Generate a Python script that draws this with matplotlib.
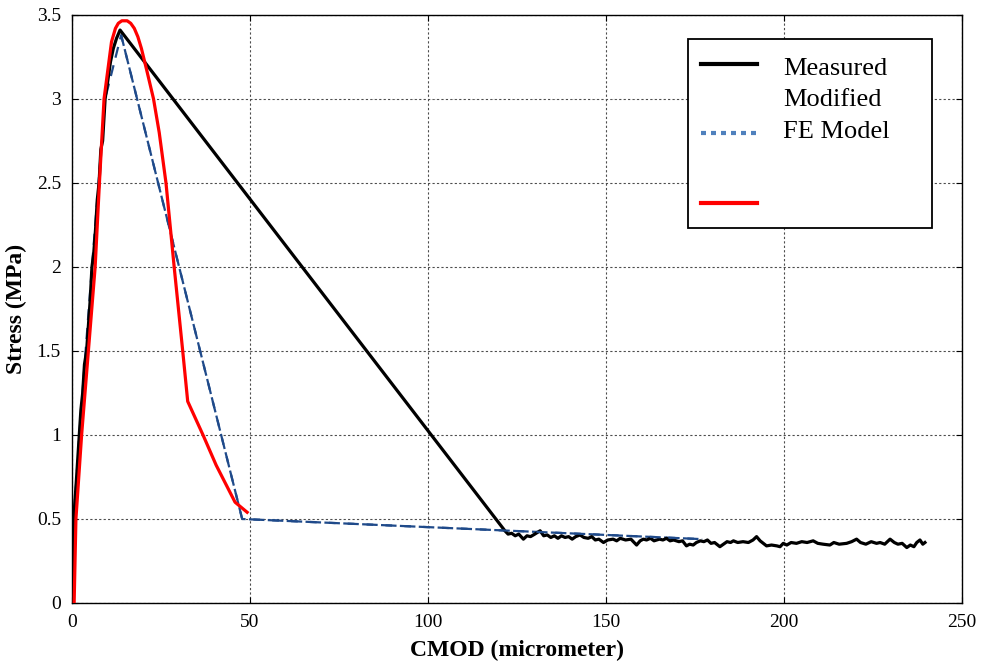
import matplotlib

matplotlib.use("Agg")
import matplotlib.pyplot as plt
from matplotlib.ticker import FuncFormatter

# measured curve: rising branch, descent to residual, noisy tail
measured_rise_x = [0, 0.1, 0.2, 0.35, 0.5, 0.8, 1.2, 1.6, 2.05, 2.5, 3.0, 3.5, 4.1, 4.6,
                   5.1, 5.6, 6.1, 6.6, 7.1, 7.6, 8.1, 8.6, 9.3, 10.0, 10.8, 11.6, 12.5, 13.5]
measured_rise_y = [0.0, 0.18, 0.30, 0.36, 0.50, 0.60, 0.72, 0.85, 1.00, 1.15, 1.25, 1.42, 1.50, 1.65,
                   1.80, 2.00, 2.08, 2.22, 2.40, 2.50, 2.70, 2.75, 3.00, 3.10, 3.22, 3.30, 3.36, 3.41]
measured_tail_x = [121.6, 122.5, 123.5, 124.5, 125.5, 126.8, 127.8, 128.8, 130, 131.5, 132.5, 133.5,
                   134.5, 135.5, 136.5, 137.5, 138.5, 139.5, 140.5, 141.5, 142.7, 143.8, 145, 146,
                   147, 148, 149.3, 150.5, 152, 153, 154, 155.5, 157, 158.6, 159.6, 160.5, 161.4,
                   162.5, 163.5, 165, 166, 167, 168, 169, 170.5, 171.5, 172.6, 173.5, 174.5, 175.4,
                   176.5, 177.5, 178.5, 179.5, 180.5, 182, 183, 184, 185, 185.8, 187, 188.5, 190,
                   191.3, 192.3, 193.3, 194.2, 195.1, 196.5, 198, 198.9, 199.8, 200.8, 202, 203.5,
                   205, 206.5, 208.2, 209.5, 211, 212.9, 214, 215.5, 217.6, 219, 220.4, 221.5, 223,
                   224.5, 226, 227, 228.3, 229.8, 231, 232, 233.2, 234.5, 235.5, 236.5, 237.3, 238.2,
                   239, 239.6]
measured_tail_y = [0.43, 0.41, 0.415, 0.40, 0.41, 0.38, 0.40, 0.395, 0.41, 0.43, 0.40, 0.405,
                   0.39, 0.40, 0.385, 0.40, 0.39, 0.395, 0.38, 0.395, 0.405, 0.39, 0.385, 0.395,
                   0.375, 0.38, 0.36, 0.375, 0.38, 0.37, 0.385, 0.375, 0.38, 0.345, 0.37, 0.38, 0.375,
                   0.385, 0.37, 0.38, 0.375, 0.385, 0.37, 0.375, 0.365, 0.37, 0.34, 0.35, 0.345, 0.36,
                   0.37, 0.365, 0.375, 0.355, 0.36, 0.335, 0.35, 0.365, 0.36, 0.37, 0.36, 0.365, 0.36,
                   0.375, 0.395, 0.37, 0.355, 0.34, 0.345, 0.34, 0.335, 0.355, 0.345, 0.36, 0.355,
                   0.365, 0.36, 0.37, 0.355, 0.35, 0.345, 0.36, 0.35, 0.355, 0.365, 0.38, 0.36, 0.35,
                   0.365, 0.355, 0.36, 0.35, 0.38, 0.36, 0.35, 0.355, 0.33, 0.345, 0.335, 0.36, 0.375,
                   0.35, 0.36]

# FE model (blue dashed)
fe_x = [0, 0.5, 2.05, 5.6, 9.3, 13.8, 47.8, 177]
fe_y = [0, 0.50, 1.00, 2.00, 3.00, 3.38, 0.50, 0.38]

# modified curve (red)
modified_x = [0.6, 1.1, 2.7, 4.6, 6.5, 7.7, 9.0, 11.1, 12.2, 13.0, 14.0, 15.5, 16.5, 17.5,
              18.5, 19.5, 21.0, 22.9, 24.5, 26.4, 28.7, 31.1, 32.5, 36.8, 40.5, 45.8, 49.2]
modified_y = [0.0, 0.5, 1.0, 1.5, 2.0, 2.5, 3.0, 3.34, 3.42, 3.45, 3.465, 3.465, 3.45, 3.42,
              3.37, 3.30, 3.17, 3.0, 2.8, 2.5, 2.0, 1.5, 1.2, 1.0, 0.82, 0.6, 0.54]

legend_labels = ["Measured", "Modified", "FE Model"]

x_ticks = [0, 50, 100, 150, 200, 250]
y_ticks = [0, 0.5, 1, 1.5, 2, 2.5, 3, 3.5]

plt.rcParams["font.family"] = ["Liberation Serif", "DejaVu Serif"]

fig = plt.figure(figsize=(9.81, 6.63), dpi=100)
ax = fig.add_axes([0.0734, 0.0905, 0.9072, 0.887])

ax.grid(True, linestyle=(0, (2, 2)), color="0.3", linewidth=0.8)
ax.set_axisbelow(True)

meas_x = measured_rise_x + measured_tail_x
meas_y = measured_rise_y + measured_tail_y
ax.plot(fe_x, fe_y, color="#1f4a8a", lw=1.6, dashes=(5, 3.5), zorder=3)
ax.plot(meas_x, meas_y, color="black", lw=2.3, zorder=4)
ax.plot(fe_x[5:], fe_y[5:], color="#1f4a8a", lw=1.6, dashes=(5, 3.5), zorder=4.5)
ax.plot(modified_x, modified_y, color="#ff0000", lw=2.3, zorder=5)

ax.set_xlim(0, 250)
ax.set_ylim(0, 3.5)
ax.set_xticks(x_ticks)
ax.set_yticks(y_ticks)
ax.yaxis.set_major_formatter(FuncFormatter(lambda v, p: f"{v:g}"))
ax.tick_params(direction="in", length=4, top=True, right=True, labelsize=14, pad=8)
for s in ax.spines.values():
    s.set_linewidth(1.0)

ax.set_xlabel("CMOD (micrometer)", fontsize=17, fontweight="bold", labelpad=6)
ax.set_ylabel("Stress (MPa)", fontsize=17, fontweight="bold", labelpad=7)

# legend box drawn by hand to keep the odd entry layout
box = plt.Rectangle((0.692, 0.638), 0.274, 0.321, transform=ax.transAxes,
                    facecolor="white", edgecolor="black", lw=1.3, zorder=10)
ax.add_patch(box)
ax.plot([0.707, 0.770], [0.916, 0.916], transform=ax.transAxes, color="black", lw=3, zorder=11)
ax.plot([0.707, 0.770], [0.799, 0.799], transform=ax.transAxes, color="#4f81bd", lw=3,
        dashes=(1.2, 1.2), zorder=11)
ax.plot([0.707, 0.770], [0.680, 0.680], transform=ax.transAxes, color="#ff0000", lw=3, zorder=11)
for label, yy in zip(legend_labels, [0.897, 0.845, 0.791]):
    ax.text(0.799, yy, label, transform=ax.transAxes, fontsize=19, va="baseline", ha="left", zorder=11)

fig.savefig("out.png", dpi=100)
